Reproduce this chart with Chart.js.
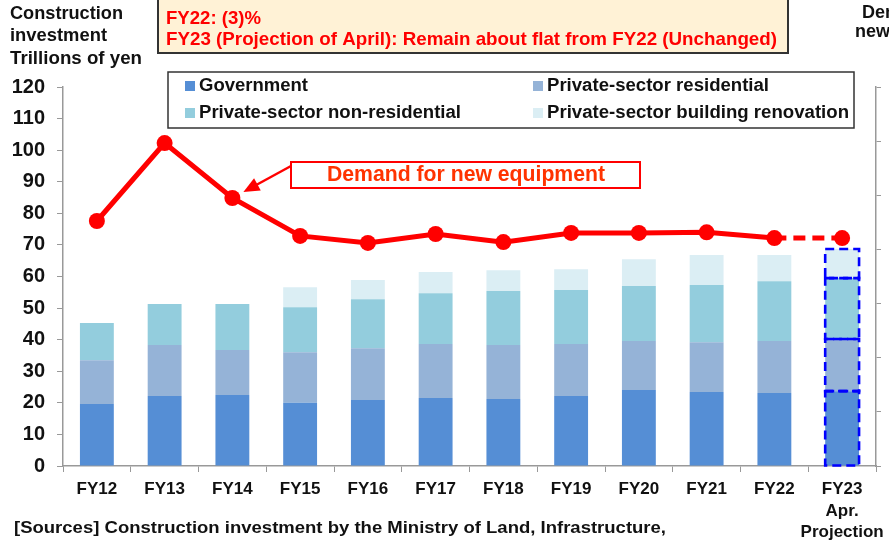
<!DOCTYPE html>
<html lang="en">
<head>
    <meta charset="UTF-8">
    <title>Construction investment and demand for new equipment</title>
    <script src="https://cdn.jsdelivr.net/npm/chart.js"></script>
    <style>
        html, body {
            margin: 0;
            padding: 0;
            background: #ffffff;
        }
        #wrap {
            position: relative;
            width: 889px;
            height: 545px;
        }
    </style>
</head>
<body>
    <div id="wrap">
        <canvas id="mainChart" width="889" height="545"></canvas>
    </div>

    <script>
        // categories / tick labels
        const years = ['FY12', 'FY13', 'FY14', 'FY15', 'FY16', 'FY17', 'FY18', 'FY19', 'FY20', 'FY21', 'FY22', ['FY23', 'Apr.', 'Projection']];

        // construction investment, trillions of yen (stacked)
        const government     = [19.6, 22.2, 22.5, 20.0, 20.9, 21.5, 21.2, 22.2, 24.1, 23.4, 23.1, 23.7];
        const residential    = [13.9, 16.1, 14.2, 16.0, 16.4, 17.1, 17.1, 16.4, 15.5, 15.8, 16.5, 16.5];
        const nonResidential = [11.8, 13.0, 14.6, 14.3, 15.5, 16.1, 17.1, 17.1, 17.4, 18.1, 18.9, 19.3];
        const renovation     = [0, 0, 0, 6.3, 6.1, 6.7, 6.6, 6.6, 8.5, 9.5, 8.3, 9.2];

        // demand for new equipment (right axis, labels cut off in the original)
        const demand = [90.5, 119.3, 99.0, 85.0, 82.4, 85.7, 82.7, 86.1, 86.1, 86.3, 84.2, 84.2];

        const leftTicks = { min: 0, max: 120, step: 10 };
        const rightTicks = { min: 0, max: 140, step: 20 };

        const FONT = '"Liberation Sans", Arial, sans-serif';
        const projIndex = years.length - 1;

        // draw text squeezed / stretched to a given width
        function fitText(ctx, text, x, y, width) {
            const w = ctx.measureText(text).width;
            ctx.save();
            ctx.translate(x, y);
            ctx.scale(width / w, 1);
            ctx.fillText(text, 0, 0);
            ctx.restore();
        }

        const extras = {
            id: 'extras',
            afterDatasetsDraw(chart) {
                const ctx = chart.ctx;
                // dashed outline on the projection bar segments
                ctx.save();
                ctx.strokeStyle = '#0000ff';
                ctx.lineWidth = 2.6;
                ctx.setLineDash([9, 5]);
                chart.data.datasets.forEach((ds, i) => {
                    if (ds.type === 'line') return;
                    const el = chart.getDatasetMeta(i).data[projIndex];
                    if (!el || ds.data[projIndex] === 0) return;
                    const left = el.x - el.width / 2;
                    const top = Math.min(el.y, el.base);
                    const h = Math.abs(el.base - el.y);
                    ctx.strokeRect(left, top, el.width, h);
                });
                ctx.restore();
            },
            afterDraw(chart) {
                const ctx = chart.ctx;
                ctx.save();
                ctx.textBaseline = 'middle';

                // left title
                ctx.fillStyle = '#111';
                ctx.font = 'bold 19px ' + FONT;
                fitText(ctx, 'Construction', 10, 14, 113);
                fitText(ctx, 'investment', 10, 36, 97);
                fitText(ctx, 'Trillions of yen', 10, 59, 132);

                // right axis title (cut off by the edge)
                ctx.font = 'bold 18px ' + FONT;
                ctx.fillText('Demand for', 862, 13);
                ctx.fillText('new equipment', 855, 32);

                // note box
                ctx.fillStyle = '#fff2d6';
                ctx.fillRect(158, 0, 630, 53);
                ctx.strokeStyle = '#333';
                ctx.lineWidth = 2;
                ctx.strokeRect(158, -2, 630, 55);
                ctx.fillStyle = '#ff0000';
                ctx.font = 'bold 19px ' + FONT;
                fitText(ctx, 'FY22: (3)%', 166, 19, 95);
                fitText(ctx, 'FY23 (Projection of April): Remain about flat from FY22 (Unchanged)', 166, 40, 611);

                // legend box
                ctx.fillStyle = '#ffffff';
                ctx.fillRect(168, 72, 686, 56);
                ctx.strokeStyle = '#333';
                ctx.lineWidth = 1.5;
                ctx.strokeRect(168, 72, 686, 56);
                const items = chart.data.datasets.filter(d => d.type !== 'line');
                const spots = [[185, 86], [533, 86], [185, 113], [533, 113]];
                const widths = [109, 222, 262, 302];
                ctx.font = 'bold 18px ' + FONT;
                items.forEach((d, i) => {
                    const [sx, sy] = spots[i];
                    ctx.fillStyle = d.backgroundColor;
                    ctx.fillRect(sx, sy - 5, 10, 10);
                    ctx.fillStyle = '#111';
                    fitText(ctx, d.label, sx + 14, sy, widths[i]);
                });

                // callout for the line
                const p = chart.getDatasetMeta(4).data[2];
                ctx.fillStyle = '#ffffff';
                ctx.fillRect(291, 162, 349, 26);
                ctx.strokeStyle = '#ff0000';
                ctx.lineWidth = 2;
                ctx.strokeRect(291, 162, 349, 26);
                ctx.fillStyle = '#ff3300';
                ctx.font = 'bold 22px ' + FONT;
                fitText(ctx, 'Demand for new equipment', 327, 175, 278);

                // arrow to the FY14 point
                const tipX = p.x + 11, tipY = p.y - 6;
                const fromX = 291, fromY = 166;
                const ang = Math.atan2(tipY - fromY, tipX - fromX);
                ctx.strokeStyle = '#ff0000';
                ctx.lineWidth = 2.5;
                ctx.beginPath();
                ctx.moveTo(fromX, fromY);
                ctx.lineTo(tipX - 12 * Math.cos(ang), tipY - 12 * Math.sin(ang));
                ctx.stroke();
                ctx.fillStyle = '#ff0000';
                ctx.beginPath();
                ctx.moveTo(tipX, tipY);
                ctx.lineTo(tipX - 16 * Math.cos(ang) + 7 * Math.sin(ang), tipY - 16 * Math.sin(ang) - 7 * Math.cos(ang));
                ctx.lineTo(tipX - 16 * Math.cos(ang) - 7 * Math.sin(ang), tipY - 16 * Math.sin(ang) + 7 * Math.cos(ang));
                ctx.closePath();
                ctx.fill();

                // sources
                ctx.fillStyle = '#111';
                ctx.font = 'bold 17px ' + FONT;
                fitText(ctx, '[Sources] Construction investment by the Ministry of Land, Infrastructure,', 14, 528, 652);

                ctx.restore();
            }
        };

        const ctx = document.getElementById('mainChart').getContext('2d');
        new Chart(ctx, {
            data: {
                labels: years,
                datasets: [
                    { type: 'bar', label: 'Government', data: government, backgroundColor: '#558ed5', order: 2 },
                    { type: 'bar', label: 'Private-sector residential', data: residential, backgroundColor: '#95b3d7', order: 2 },
                    { type: 'bar', label: 'Private-sector non-residential', data: nonResidential, backgroundColor: '#93cddd', order: 2 },
                    { type: 'bar', label: 'Private-sector building renovation', data: renovation, backgroundColor: '#dbeef4', order: 2 },
                    {
                        type: 'line',
                        label: 'Demand for new equipment',
                        data: demand,
                        yAxisID: 'y1',
                        borderColor: '#ff0000',
                        backgroundColor: '#ff0000',
                        borderWidth: 5,
                        pointRadius: 8,
                        pointBorderWidth: 0,
                        pointBackgroundColor: '#ff0000',
                        tension: 0,
                        order: 1,
                        segment: {
                            borderDash: c => c.p1DataIndex === projIndex ? [12, 7] : undefined
                        }
                    }
                ]
            },
            options: {
                responsive: false,
                animation: false,
                devicePixelRatio: 1,
                layout: { padding: { top: 87, left: 0, right: 0, bottom: 0 } },
                datasets: {
                    bar: { barPercentage: 0.5, categoryPercentage: 1.0 }
                },
                plugins: {
                    legend: { display: false },
                    title: { display: false },
                    tooltip: { enabled: false }
                },
                scales: {
                    x: {
                        stacked: true,
                        grid: { offset: true, drawOnChartArea: false, drawTicks: true, tickLength: 6, color: '#999' },
                        border: { color: '#999', width: 1.5 },
                        ticks: {
                            font: { family: FONT, size: 17, weight: 'bold', lineHeight: 1.25 },
                            color: '#111',
                            padding: 7,
                            maxRotation: 0,
                            autoSkip: false
                        },
                        afterFit: s => { s.height = 79; s.paddingLeft = 0; s.paddingRight = 0; }
                    },
                    y: {
                        stacked: true,
                        min: leftTicks.min,
                        max: leftTicks.max,
                        grid: { drawOnChartArea: false, drawTicks: true, tickLength: 6, color: '#999' },
                        border: { color: '#999', width: 1.5 },
                        ticks: {
                            stepSize: leftTicks.step,
                            font: { family: FONT, size: 20, weight: 'bold' },
                            color: '#111',
                            padding: 12
                        },
                        afterFit: s => { s.width = 63; s.paddingTop = 0; s.paddingBottom = 0; }
                    },
                    y1: {
                        position: 'right',
                        min: rightTicks.min,
                        max: rightTicks.max,
                        grid: { drawOnChartArea: false, drawTicks: true, tickLength: 5, color: '#999' },
                        border: { color: '#999', width: 1.5 },
                        ticks: { stepSize: rightTicks.step, display: false },
                        afterFit: s => { s.width = 13; s.paddingTop = 0; s.paddingBottom = 0; }
                    }
                }
            },
            plugins: [extras]
        });
    </script>
</body>
</html>
